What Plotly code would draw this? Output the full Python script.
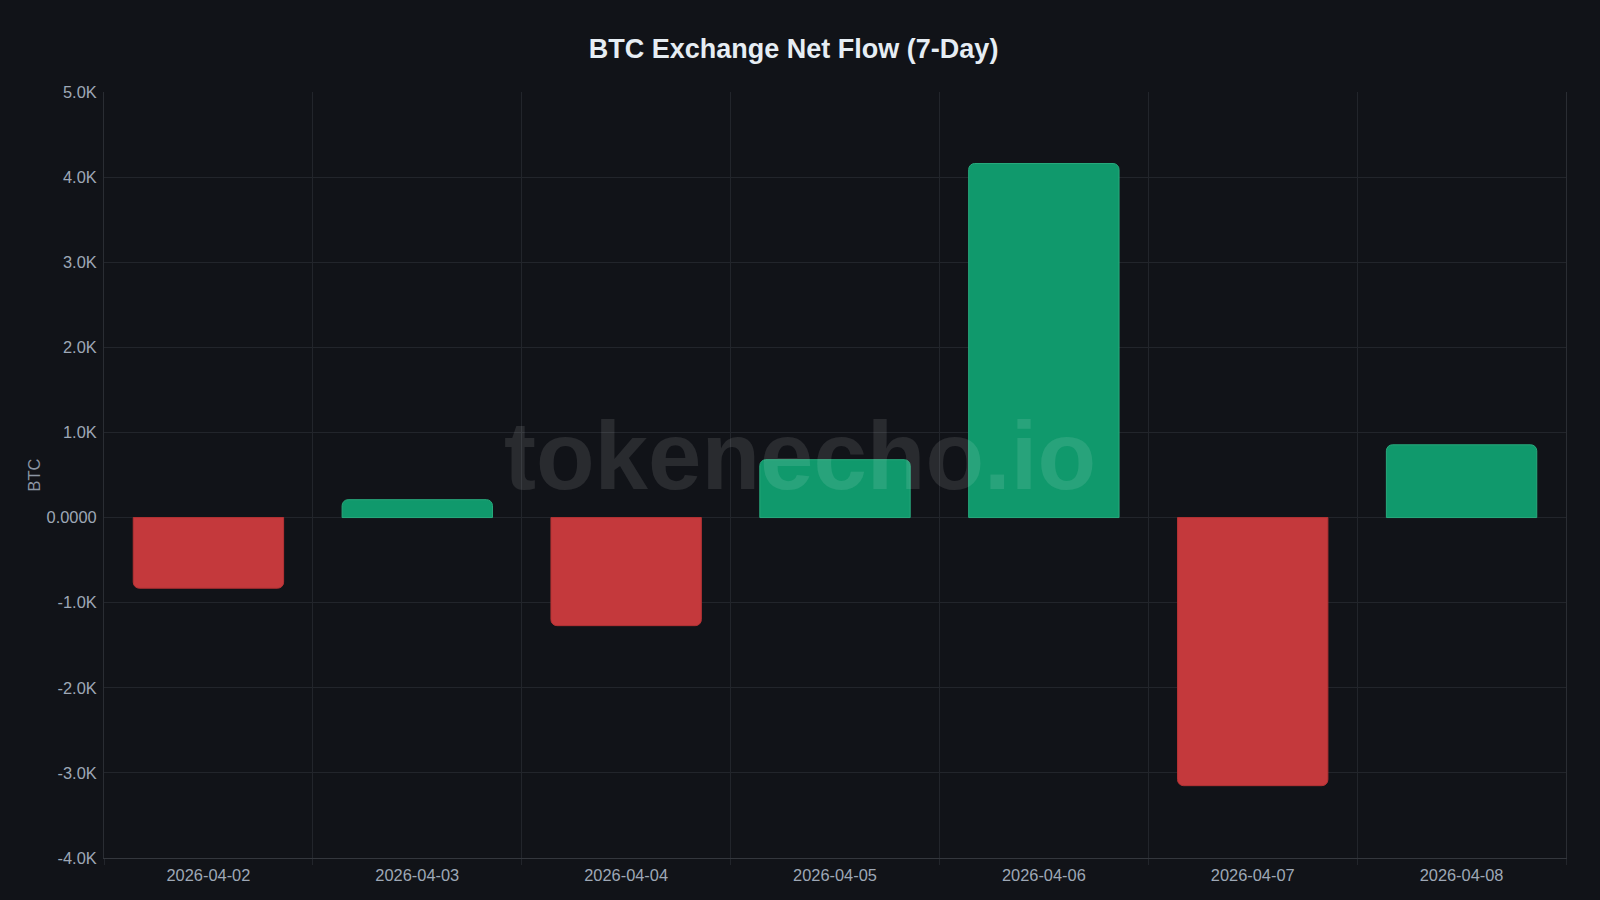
import plotly.graph_objects as go

dates = ["2026-04-02", "2026-04-03", "2026-04-04", "2026-04-05", "2026-04-06", "2026-04-07", "2026-04-08"]
net_flow = [-830, 210, -1270, 680, 4160, -3150, 855]
y_tick_vals = [5000, 4000, 3000, 2000, 1000, 0, -1000, -2000, -3000, -4000]
y_tick_text = ["5.0K", "4.0K", "3.0K", "2.0K", "1.0K", "0.0000", "-1.0K", "-2.0K", "-3.0K", "-4.0K"]

GREEN = "rgb(16,153,108)"
RED = "rgb(196,57,60)"
BG = "#111318"
GRID = "#22252b"
FONT = "Liberation Sans, Arial, Helvetica, sans-serif"
TICK_COLOR = "#9ea8b6"

colors = [GREEN if v >= 0 else RED for v in net_flow]
line_colors = ["rgb(40,170,125)" if v >= 0 else "rgb(180,50,52)" for v in net_flow]

fig = go.Figure(go.Bar(
    x=dates, y=net_flow,
    marker=dict(color=colors, line=dict(color=line_colors, width=1), cornerradius=6),
    hoverinfo="x+y",
))

fig.update_layout(
    width=1600, height=900,
    paper_bgcolor=BG, plot_bgcolor=BG,
    margin=dict(l=104, r=34, t=92, b=42),
    bargap=0.28,
    showlegend=False,
    font=dict(family=FONT, color=TICK_COLOR, size=16.4),
    title=dict(text="<b>BTC Exchange Net Flow (7-Day)</b>", x=0.496, xanchor="center",
               y=0.946, yanchor="middle",
               font=dict(family=FONT, size=27, color="#e6edf3")),
    xaxis=dict(type="category", tickson="boundaries", showgrid=True, gridcolor=GRID, gridwidth=1,
               ticks="outside", ticklen=6, tickcolor=GRID, ticklabelstandoff=2,
               showline=True, linecolor="#34373d", linewidth=1,
               tickfont=dict(size=16.4, color=TICK_COLOR)),
    yaxis=dict(range=[-4000, 5000], tickvals=y_tick_vals, ticktext=y_tick_text,
               showgrid=True, gridcolor=GRID, gridwidth=1,
               zeroline=True, zerolinecolor=GRID, zerolinewidth=1,
               showline=True, linecolor="#2a2d33", linewidth=1, mirror=True,
               ticks="", ticklabelstandoff=3,
               tickfont=dict(size=16.4, color=TICK_COLOR),
               title=dict(text="BTC", font=dict(size=16.4, color="#8b95a3"), standoff=1)),
    annotations=[dict(text="<b>tokenecho.io</b>", xref="paper", yref="paper", x=0.476, y=0.525,
                      xanchor="center", yanchor="middle", showarrow=False,
                      font=dict(family=FONT, size=96, color="rgba(255,255,255,0.1)"))],
)

fig.write_html("out.html", config={"displayModeBar": False},
               post_script="document.body.style.margin='0';")
